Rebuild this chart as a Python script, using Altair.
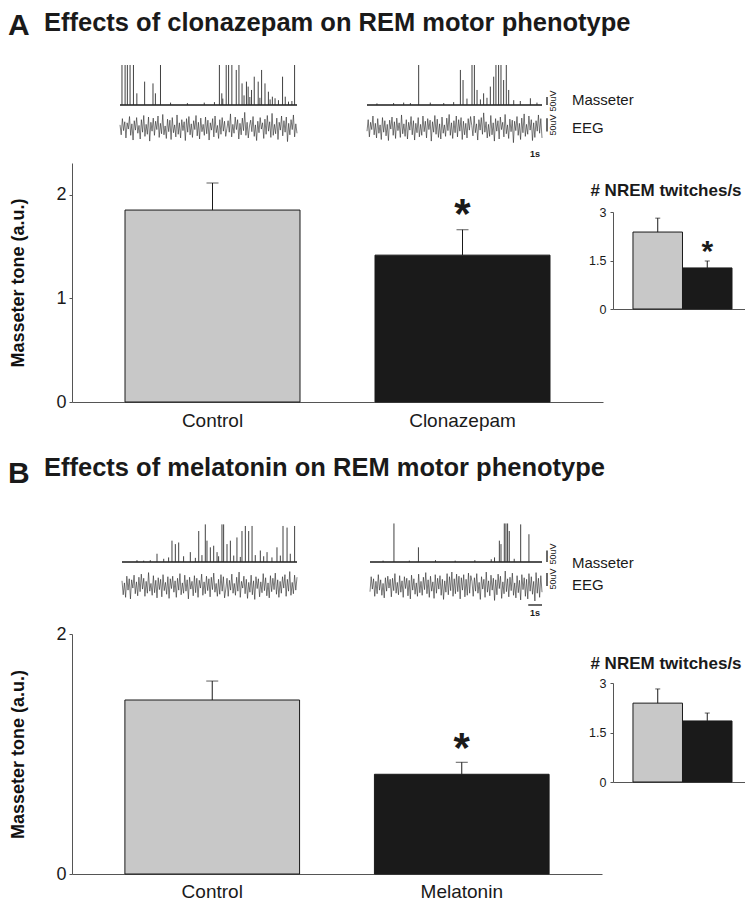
import altair as alt
import pandas as pd

FONT = "Liberation Sans"
INK = "#1a1a1a"
AXIS = "#555555"
TITLE_Y = "Masseter tone (a.u.)"
W, H = 737, 892

# ---------------- data ----------------
groups_a = ["Control", "Clonazepam"]
tone_a = [1.852, 1.417]
tone_err_a = [0.261, 0.245]
tone_sig_a = [False, True]
twitch_a = [2.38, 1.27]
twitch_err_a = [0.43, 0.215]
twitch_sig_a = [False, True]

groups_b = ["Control", "Melatonin"]
tone_b = [1.45, 0.831]
tone_err_b = [0.158, 0.10]
tone_sig_b = [False, True]
twitch_b = [2.39, 1.85]
twitch_err_b = [0.43, 0.24]
twitch_sig_b = [False, False]

bar_fill = ["#c8c8c8", "#1a1a1a"]

trace_seconds = 12.5
one_second = 1.0
scale_bar_uv = [0, 50]

# masseter EMG spikes: time (s) and amplitude (uV)
mass_a_ctrl_t = [0.14, 0.36, 0.52, 0.71, 0.95, 1.19, 1.74, 2.33, 2.5, 2.86, 3.57, 4.76, 5.95, 6.67,
                 7.02, 7.19, 7.26, 7.5, 7.67, 7.9, 8.21, 8.4, 8.62, 8.76, 8.93, 9.05, 9.17, 9.29, 9.48,
                 9.76, 9.88, 10.0, 10.24, 10.48, 10.6, 10.76, 10.95, 11.19, 11.48, 11.67, 11.9, 12.14, 12.33]
mass_a_ctrl_uv = [250, 250, 250, 250, 250, 73, 146, 135, 73, 250, 15, 12, 15, 18,
                  250, 73, 40, 250, 250, 250, 219, 250, 135, 60, 146, 115, 50, 94, 177,
                  146, 45, 219, 135, 83, 35, 52, 42, 30, 177, 52, 21, 25, 250]
mass_a_drug_t = [0.71, 1.9, 2.62, 3.1, 3.69, 4.52, 5.48, 6.19, 6.67, 6.86, 7.14, 7.5, 7.67, 7.86, 8.1,
                 8.33, 8.57, 8.81, 9.05, 9.21, 9.4, 9.57, 9.76, 9.95, 10.12, 10.48, 10.95, 11.67, 12.14]
mass_a_drug_uv = [10, 12, 15, 12, 250, 15, 12, 18, 219, 156, 40, 250, 250, 94, 35,
                  73, 45, 115, 177, 250, 250, 250, 156, 250, 94, 30, 25, 42, 15]
mass_b_ctrl_t = [1.07, 1.55, 2.02, 2.5, 2.98, 3.33, 3.57, 3.81, 4.05, 4.4, 4.88, 5.24, 5.48, 5.71, 5.95,
                 6.07, 6.31, 6.55, 6.79, 6.9, 7.14, 7.26, 7.5, 7.74, 7.98, 8.21, 8.45, 8.57, 8.81, 9.05,
                 9.29, 9.52, 9.88, 10.12, 10.36, 10.71, 11.07, 11.31, 11.5, 11.79, 12.02, 12.33]
mass_b_ctrl_uv = [8, 6, 8, 36, 14, 20, 93, 78, 85, 25, 43, 18, 135, 30, 164,
                  93, 64, 71, 43, 25, 164, 164, 78, 93, 28, 107, 22, 135, 157, 135,
                  157, 30, 50, 25, 43, 20, 64, 28, 157, 150, 36, 157]
mass_b_drug_t = [0.95, 1.74, 2.86, 3.52, 4.76, 6.19, 7.62, 8.81, 9.05, 9.4, 9.52, 9.76, 9.88, 10.0,
                 10.12, 10.48, 10.95, 11.55]
mass_b_drug_uv = [6, 168, 6, 64, 8, 6, 8, 12, 20, 93, 78, 168, 168, 168, 135, 14, 164, 121]

# EEG traces (uV), successive samples
eeg_a_ctrl = [10, -28, 34, -12, 22, -40, 18, -6, 42, -30, 14, -48, 26, -10, 38, -22, 8, -44, 30, -18,
              46, -34, 12, -26, 40, -52, 20, -14, 36, -30, 24, -8, 44, -38, 16, -24, 50, -28, 6, -42,
              32, -16, 28, -46, 38, -20, 10, -36, 48, -26, 18, -40, 30, -12, 22, -50, 34, -18, 42, -28,
              14, -38, 26, -8, 46, -32, 20, -44, 36, -16, 12, -30, 40, -24, 28, -48, 18, -10, 34, -36,
              44, -20, 8, -42, 30, -26, 38, -14, 24, -34, -4, 26, -18, 52, -36, 12, -22, 40, -8, 30,
              -44, 16, -28, 36, -12, 58, -30, 20, -40, 6, 28, -16, 42, -34, 10, -50, 24, -20, 38, -6,
              18, -42, 32, -26, 46, -14, 22, -38, 54, -30, 12, -24, 36, -46, 20, -10, 44, -32, 26, -18,
              40, -54, 16, -28, 30, -8, 48, -36, 14, -22]
eeg_a_drug = [-14, 30, -36, 20, -8, 44, -28, 16, -40, 34, -22, 10, -46, 38, -18, 26, -32, 12, -50, 28,
              -6, 40, -30, 22, -42, 36, -12, 18, -38, 48, -24, 14, -34, 30, -44, 20, -10, 42, -28, 26,
              -48, 16, -20, 38, -36, 12, -30, 44, -16, 24, -40, 34, -8, 28, -52, 22, -18, 46, -26, 32,
              -38, 14, -44, 40, -22, 10, -34, 36, -12, 50, -30, 18, -42, 26, -20, 44, -36, 30, -14, 38,
              -46, 24, -28, 16, -40, 34, -10, 42, 8, -32, 44, -20, 14, -48, 30, -10, 38, -26, 56, -18,
              22, -40, 12, -34, 46, -28, 18, -52, 34, -14, 26, -44, 40, -8, 20, -36, 50, -24, 10, -42,
              32, -16, 28, -58, 24, -12, 42, -30, 16, -46, 36, -20, 52, -34, 12, -26, 44, -10, 30, -50,
              18, -38, 26, -14, 48, -22, 34, -40]
eeg_b_ctrl = [20, -34, 12, -44, 38, -16, 28, -50, 24, -8, 42, -30, 16, -38, 34, -22, 46, -12, 30, -40,
              18, -28, 52, -20, 10, -36, 40, -26, 22, -46, 32, -14, 26, -42, 44, -18, 14, -32, 36, -48,
              28, -10, 38, -24, 20, -44, 30, -16, 48, -34, 12, -28, 42, -20, 24, -50, 34, -12, 18, -38,
              40, -26, 30, -44, 22, -8, 46, -36, 16, -30, 38, -18, 28, -42, 34, -14, 50, -24, 10, -40,
              26, -32, 44, -20, 36, -46, -12, 30, -40, 22, -16, 46, -28, 10, -36, 34, -20, 54, -44, 18,
              -8, 38, -30, 26, -48, 14, -24, 42, -34, 20, -52, 36, -10, 28, -42, 16, -26, 48, -18, 32,
              -38, 12, -46, 40, -22, 30, -14, 50, -32, 24, -44, 18, -28, 36, -8, 44, -40, 26, -20, 56,
              -36, 14, -30, 42, -16, 34]
eeg_b_drug = [-22, 36, -12, 28, -40, 18, -30, 44, -16, 24, -36, 10, -46, 32, -20, 38, -8, 26, -42, 30,
              -18, 48, -28, 14, -34, 40, -24, 20, -44, 36, -10, 30, -38, 22, -50, 42, -16, 28, -32, 12,
              -40, 46, -26, 18, -36, 34, -14, 52, -30, 24, -44, 38, -20, 16, -48, 44, -28, 30, -12, 40,
              -36, 26, -52, 20, -24, 48, -34, 36, -18, 54, -40, 28, -30, 46, -22, 38, -50, 32, -16, 44,
              -42, 26, -36, 50, -28, 40, 18, -40, 32, -20, 48, -28, 14, -52, 36, -12, 26, -44, 54, -24,
              20, -38, 42, -16, 30, -56, 24, -34, 46, -10, 38, -48, 16, -30, 58, -22, 28, -42, 34, -18,
              50, -36, 12, -46, 40, -26, 22, -54, 44, -14, 32, -40, 26, -50, 48, -20, 36, -32, 18, -58,
              52, -28, 30, -44, 40, -24]

ONE = pd.DataFrame({"h": [0]})


def text(txt, x, y, size=15, angle=None, align="left", baseline="middle", weight="normal"):
    kw = dict(text=txt, fontSize=size, align=align, baseline=baseline, color=INK, fontWeight=weight)
    if angle is not None:
        kw["angle"] = angle
    return alt.Chart(ONE).mark_text(**kw).encode(x=alt.value(x), y=alt.value(y))


def masseter(t, uv, ymax, xr, yr):
    xs = alt.Scale(domain=[0, trace_seconds], range=xr, nice=False, zero=False)
    ys = alt.Scale(domain=[0, ymax], range=yr, nice=False)
    base_df = pd.DataFrame({"t0": [0.0], "t1": [trace_seconds], "uv": [0.0]})
    baseline = alt.Chart(base_df).mark_rule(color=INK, strokeWidth=1.6).encode(
        x=alt.X("t0:Q", scale=xs, axis=None), x2="t1:Q",
        y=alt.Y("uv:Q", scale=ys, axis=None))
    spikes = alt.Chart(pd.DataFrame({"t": t, "uv": uv, "zero": [0.0] * len(t)})).mark_rule(
        color="#2b2b2b", strokeWidth=0.9).encode(
        x=alt.X("t:Q", scale=xs, axis=None),
        y=alt.Y("uv:Q", scale=ys, axis=None),
        y2="zero:Q")
    return alt.layer(baseline, spikes), ys, xs


def eeg(vals, ylim, xr, yr):
    n = len(vals)
    xs = alt.Scale(domain=[0, trace_seconds], range=xr, nice=False, zero=False)
    ys = alt.Scale(domain=[-ylim, ylim], range=yr, nice=False)
    df = pd.DataFrame({"i": list(range(n)), "uv": vals})
    line = alt.Chart(df).transform_calculate(
        t=f"datum.i * {trace_seconds} / {n - 1}"
    ).mark_line(color="#262626", strokeWidth=0.6).encode(
        x=alt.X("t:Q", scale=xs, axis=None), y=alt.Y("uv:Q", scale=ys, axis=None))
    return line, ys, xs


def uv_bar(ys, lo, bar_x):
    df = pd.DataFrame({"lo": [lo], "hi": [lo + scale_bar_uv[1] - scale_bar_uv[0]]})
    return alt.Chart(df).mark_rule(color=INK, strokeWidth=1.3).encode(
        x=alt.value(bar_x), y=alt.Y("lo:Q", scale=ys, axis=None), y2="hi:Q")


def sec_bar(xs, y):
    df = pd.DataFrame({"s0": [trace_seconds - one_second], "s1": [trace_seconds]})
    return alt.Chart(df).mark_rule(color=INK, strokeWidth=1.3).encode(
        x=alt.X("s0:Q", scale=xs, axis=None), x2="s1:Q", y=alt.value(y))


def main_bars(groups, vals, errs, sig, ymax, xr, yr, star_dy, label_pad):
    df = pd.DataFrame({"group": groups, "tone": vals, "err": errs, "sig": sig})
    xs = alt.Scale(domain=groups, range=xr, paddingInner=0.3, paddingOuter=0.212)
    ys = alt.Scale(domain=[0, ymax], range=yr, nice=False, zero=True)
    xaxis = alt.Axis(orient="bottom", offset=yr[0] - H, title=None, labelAngle=0, ticks=False,
                     labelPadding=label_pad, labelFontSize=19, labelColor=INK, domainColor=AXIS,
                     grid=False)
    yaxis = alt.Axis(orient="left", offset=-xr[0], values=[0, 1, 2], format="d", grid=False,
                     tickSize=3, tickColor=AXIS, domainColor=AXIS, labelFontSize=18, labelColor=INK,
                     labelPadding=3, titleFontSize=18, titleFontWeight="bold", titleColor="#111",
                     titleX=-45)
    X = alt.X("group:N", scale=xs, axis=xaxis, sort=groups)

    def Y(field):
        return alt.Y(field, scale=ys, axis=yaxis, title=TITLE_Y)

    base = alt.Chart(df).transform_calculate(top="datum.tone + datum.err")
    bars = base.mark_bar(stroke=INK, strokeWidth=1).encode(
        x=X, y=Y("tone:Q"),
        fill=alt.Fill("group:N", scale=alt.Scale(domain=groups, range=bar_fill), legend=None))
    whisk = base.mark_rule(color=INK, strokeWidth=1).encode(x=X, y=Y("tone:Q"), y2="top:Q")
    cap = base.mark_tick(color=INK, thickness=1, size=12).encode(x=X, y=Y("top:Q"))
    star = base.transform_filter("datum.sig").mark_text(
        text="*", fontSize=42, fontWeight="bold", baseline="alphabetic", dy=star_dy, color=INK
    ).encode(x=X, y=Y("top:Q"))
    return alt.layer(bars, whisk, cap, star)


def inset_bars(groups, vals, errs, sig, xr, yr, star_dy):
    df = pd.DataFrame({"group": groups, "rate": vals, "err": errs, "sig": sig})
    xs = alt.Scale(domain=groups, range=xr, paddingInner=0, paddingOuter=0.333, align=0.606)
    ys = alt.Scale(domain=[0, 3], range=yr, nice=False)
    xaxis = alt.Axis(orient="bottom", offset=yr[0] - H, title=None, labels=False, ticks=False,
                     domainColor=AXIS, grid=False)
    yaxis = alt.Axis(orient="left", offset=-xr[0], values=[0, 1.5, 3],
                     labelExpr="datum.value == 1.5 ? '1.5' : format(datum.value, 'd')",
                     grid=False, tickSize=3, tickColor=AXIS, domainColor=AXIS, labelFontSize=12.5,
                     labelColor=INK, labelPadding=4, title=None)
    X = alt.X("group:N", scale=xs, axis=xaxis, sort=groups)

    def Y(field):
        return alt.Y(field, scale=ys, axis=yaxis, title=None)

    base = alt.Chart(df).transform_calculate(top="datum.rate + datum.err")
    bars = base.mark_bar(stroke=INK, strokeWidth=1).encode(
        x=X, y=Y("rate:Q"),
        fill=alt.Fill("group:N", scale=alt.Scale(domain=groups, range=bar_fill), legend=None))
    whisk = base.mark_rule(color=INK, strokeWidth=1).encode(x=X, y=Y("rate:Q"), y2="top:Q")
    cap = base.mark_tick(color=INK, thickness=1, size=5).encode(x=X, y=Y("top:Q"))
    star = base.transform_filter("datum.sig").mark_text(
        text="*", fontSize=30, fontWeight="bold", baseline="alphabetic", dy=star_dy, color=INK
    ).encode(x=X, y=Y("top:Q"))
    return alt.layer(bars, whisk, cap, star)


layers = []

# ---------------- panel A ----------------
layers += [text("A", 0, 27, size=30, baseline="alphabetic", weight="bold"),
           text("Effects of clonazepam on REM motor phenotype", 36, 23, size=25.5,
                baseline="alphabetic", weight="bold")]
mL, _, _ = masseter(mass_a_ctrl_t, mass_a_ctrl_uv, 250, [112, 289], [97, 57])
mR, msy, _ = masseter(mass_a_drug_t, mass_a_drug_uv, 250, [359, 534], [97, 57])
eL, _, _ = eeg(eeg_a_ctrl, 67, [112, 289], [137, 102])
eR, esy, _ = eeg(eeg_a_drug, 67, [359, 534], [137, 102])
layers += [mL, alt.layer(mR, uv_bar(msy, 0, 539)), eL, alt.layer(eR, uv_bar(esy, -15, 539)),
           text("50uV", 545, 93, size=9, angle=270, align="center"),
           text("50uV", 545, 117, size=9, angle=270, align="center"),
           text("Masseter", 564, 92), text("EEG", 564, 120),
           text("1s", 527, 146, size=9, align="center", weight="bold")]
layers += [main_bars(groups_a, tone_a, tone_err_a, tone_sig_a, 2.306, [64, 595], [394, 155], -2, 9),
           inset_bars(groups_a, twitch_a, twitch_err_a, twitch_sig_a, [605, 737], [301, 204], 0),
           text("# NREM twitches/s", 658, 188, size=17, align="center", baseline="alphabetic",
                weight="bold")]

# ---------------- panel B ----------------
layers += [text("B", 0, 475, size=30, baseline="alphabetic", weight="bold"),
           text("Effects of melatonin on REM motor phenotype", 36, 468, size=25.5,
                baseline="alphabetic", weight="bold")]
mL, _, _ = masseter(mass_b_ctrl_t, mass_b_ctrl_uv, 170, [114, 289], [554, 515])
mR, msy, _ = masseter(mass_b_drug_t, mass_b_drug_uv, 170, [362, 534], [554, 515])
eL, _, _ = eeg(eeg_b_ctrl, 62, [114, 289], [594, 562])
eR, esy, exs = eeg(eeg_b_drug, 62, [362, 534], [594, 562])
layers += [mL, alt.layer(mR, uv_bar(msy, 0, 539)), eL,
           alt.layer(eR, uv_bar(esy, 0, 539), sec_bar(exs, 597)),
           text("50uV", 545, 546, size=9, angle=270, align="center"),
           text("50uV", 545, 571, size=9, angle=270, align="center"),
           text("Masseter", 564, 555), text("EEG", 564, 577),
           text("1s", 527, 605, size=9, align="center", weight="bold")]
layers += [main_bars(groups_b, tone_b, tone_err_b, tone_sig_b, 2.0, [64, 594], [866, 626], 0, 8),
           inset_bars(groups_b, twitch_b, twitch_err_b, twitch_sig_b, [605, 737], [774, 675], 0),
           text("# NREM twitches/s", 658, 661, size=17, align="center", baseline="alphabetic",
                weight="bold")]

chart = (
    alt.layer(*layers)
    .resolve_scale(x="independent", y="independent", fill="independent")
    .resolve_axis(x="independent", y="independent")
    .properties(width=W, height=H, padding=0, autosize=alt.AutoSizeParams(type="none"))
    .configure(font=FONT)
    .configure_view(strokeWidth=0, stroke="transparent")
)

chart.save("out.html", embed_options={"renderer": "svg", "actions": False})
